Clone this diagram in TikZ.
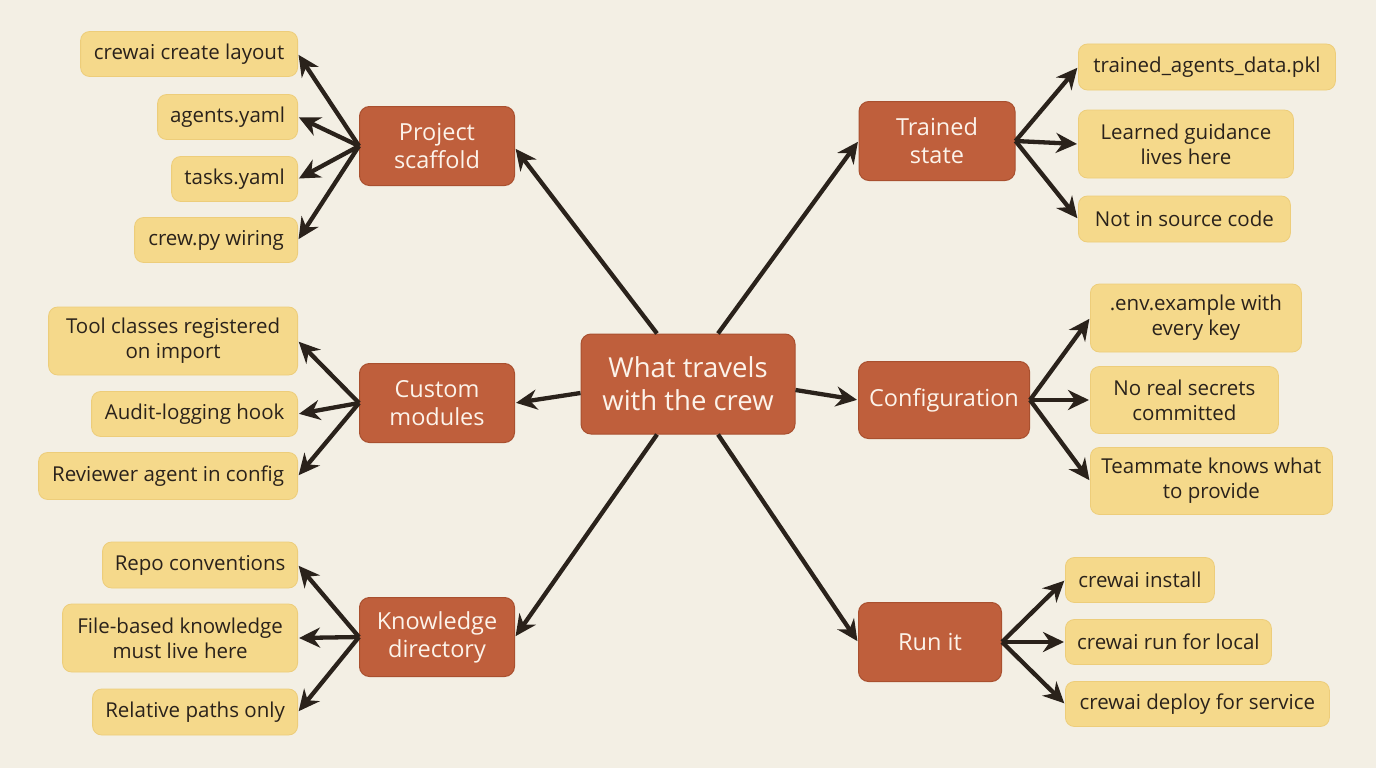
\documentclass[tikz,border=0pt]{standalone}
\usepackage{fontspec}
\setmainfont{Open Sans}
\usetikzlibrary{arrows.meta,calc}
\definecolor{bg}{HTML}{F3EFE4}
\definecolor{hub}{HTML}{BF5F3C}
\definecolor{hubedge}{HTML}{A9502F}
\definecolor{leaf}{HTML}{F5D98B}
\definecolor{leafedge}{HTML}{EDCD7A}
\definecolor{ink}{HTML}{2A221B}
\definecolor{hubtext}{HTML}{FCF3EA}
\tikzset{
  hubbox/.style={draw=hubedge, line width=1pt, fill=hub, rounded corners=10pt, text=hubtext,
    font=\fontsize{23.5}{28}\selectfont, align=center, minimum height=79pt, inner sep=6pt},
  centerbox/.style={hubbox, font=\fontsize{27.5}{33}\selectfont, minimum height=100pt, minimum width=214pt},
  leafbox/.style={draw=leafedge, line width=0.8pt, fill=leaf, rounded corners=9pt, text=ink,
    font=\fontsize{20.5}{25}\selectfont, align=center, minimum height=45pt, inner sep=4pt},
  arr/.style={draw=ink, line width=4.3pt, -{Stealth[length=21pt,width=20pt]}, shorten >=1pt},
}
\begin{document}
\begin{tikzpicture}[x=1pt,y=-1pt]
\useasboundingbox[fill=bg] (0,0) rectangle (1376,768);

% hubs
\node[centerbox] (c) at (688,384) {What travels\\with the crew};
\node[hubbox, minimum width=155pt] (ps) at (437,146) {Project\\scaffold};
\node[hubbox, minimum width=155pt] (cm) at (437,403) {Custom\\modules};
\node[hubbox, minimum width=155pt] (kd) at (437,637) {Knowledge\\directory};
\node[hubbox, minimum width=156pt] (ts) at (937,141) {Trained\\state};
\node[hubbox, minimum width=171pt, minimum height=77pt] (cf) at (944,400) {Configuration};
\node[hubbox, minimum width=143pt] (ri) at (930,642) {Run it};

% left leaves
\node[leafbox, anchor=east, minimum width=217pt] (l1) at (298,54) {crewai create layout};
\node[leafbox, anchor=east, minimum width=140pt] (l2) at (298,117) {agents.yaml};
\node[leafbox, anchor=east, minimum width=126pt] (l3) at (298,179) {tasks.yaml};
\node[leafbox, anchor=east, minimum width=163pt] (l4) at (298,240) {crew.py wiring};
\node[leafbox, anchor=east, minimum width=249pt, minimum height=68pt] (l5) at (298,341) {Tool classes registered\\on import};
\node[leafbox, anchor=east, minimum width=206pt] (l6) at (298,414) {Audit-logging hook};
\node[leafbox, anchor=east, minimum width=259pt, minimum height=47pt] (l7) at (298,476) {Reviewer agent in config};
\node[leafbox, anchor=east, minimum width=195pt, minimum height=46pt] (l8) at (298,565) {Repo conventions};
\node[leafbox, anchor=east, minimum width=235pt, minimum height=68pt] (l9) at (298,638) {File-based knowledge\\must live here};
\node[leafbox, anchor=east, minimum width=205pt, minimum height=46pt] (l10) at (298,712) {Relative paths only};

% right leaves
\node[leafbox, anchor=west, minimum width=257pt, minimum height=46pt] (r1) at (1078,67) {trained\_agents\_data.pkl};
\node[leafbox, anchor=west, minimum width=215pt, minimum height=68pt] (r2) at (1078,144) {Learned guidance\\lives here};
\node[leafbox, anchor=west, minimum width=212pt, minimum height=46pt] (r3) at (1078,219) {Not in source code};
\node[leafbox, anchor=west, minimum width=211pt, minimum height=68pt] (r4) at (1090,318) {.env.example with\\every key};
\node[leafbox, anchor=west, minimum width=188pt, minimum height=67pt] (r5) at (1090,400) {No real secrets\\committed};
\node[leafbox, anchor=west, minimum width=242pt, minimum height=67pt] (r6) at (1090,481) {Teammate knows what\\to provide};
\node[leafbox, anchor=west, minimum width=149pt] (r7) at (1065,580) {crewai install};
\node[leafbox, anchor=west, minimum width=206pt] (r8) at (1065,642) {crewai run for local};
\node[leafbox, anchor=west, minimum width=264pt] (r9) at (1065,704) {crewai deploy for service};

% center to hubs
\draw[arr] ([xshift=-31pt]c.north) -- ([yshift=-2pt]ps.east);
\draw[arr] ([xshift=30pt]c.north) -- (ts.west);
\draw[arr] ([yshift=-9pt]c.west) -- (cm.east);
\draw[arr] ([yshift=-6pt]c.east) -- (cf.west);
\draw[arr] ([xshift=-31pt]c.south) -- (kd.east);
\draw[arr] ([xshift=30pt]c.south) -- (ri.west);

% hub fans
\foreach \t in {l1,l2,l3,l4} \draw[arr] (ps.west) -- (\t.east);
\foreach \t in {l5,l6,l7} \draw[arr] (cm.west) -- (\t.east);
\foreach \t in {l8,l9,l10} \draw[arr] (kd.west) -- (\t.east);
\foreach \t in {r1,r2,r3} \draw[arr] (ts.east) -- (\t.west);
\foreach \t in {r4,r5,r6} \draw[arr] (cf.east) -- (\t.west);
\foreach \t in {r7,r8,r9} \draw[arr] (ri.east) -- (\t.west);
\end{tikzpicture}
\end{document}
